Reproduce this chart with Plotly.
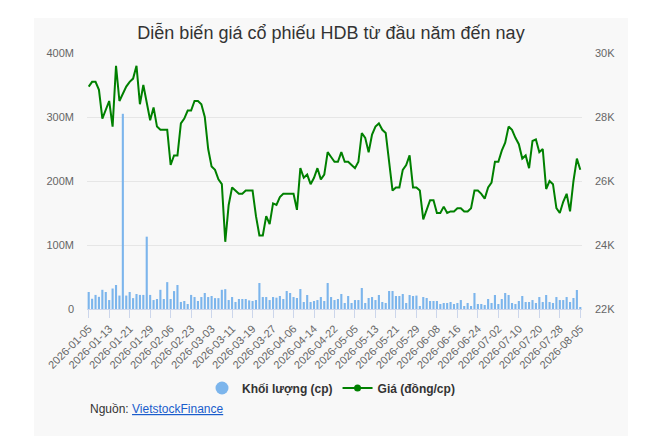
import pandas as pd
import plotly.graph_objects as go

# Trading calendar (HOSE) – weekdays minus market holidays
start_date = "2026-01-05"
end_date = "2026-08-05"
holidays = ["2026-02-16", "2026-02-17", "2026-02-18", "2026-02-19", "2026-02-20",
            "2026-04-27", "2026-04-30", "2026-05-01"]
dates = [d.strftime("%Y-%m-%d") for d in pd.bdate_range(start_date, end_date)
         if d.strftime("%Y-%m-%d") not in holidays]

# Price (dong/share)
price = [28950, 29100, 29100, 28850, 27950, 28200, 28500, 27700, 29600, 28500,
         28750, 28950, 29100, 29200, 29600, 28400, 29000, 28450, 27900, 28300,
         27700, 27600, 27600, 27600, 26500, 26800, 26800, 27800, 27950, 28200,
         28200, 28500, 28500, 28400, 28000, 27000, 26450, 26350, 26050, 25900,
         24100, 25250, 25800, 25700, 25600, 25600, 25700, 25700, 25700, 24900,
         24300, 24300, 24900, 24650, 25300, 25250, 25500, 25600, 25600, 25600,
         25600, 25100, 26400, 26100, 26200, 25900, 26100, 26400, 26050, 26200,
         26900, 26750, 26600, 26600, 26900, 26600, 26600, 26500, 26400, 26600,
         27500, 27350, 26900, 27450, 27700, 27800, 27600, 27500, 26550, 25700,
         25800, 25800, 26350, 26500, 26800, 25800, 25800, 25700, 24800, 25100,
         25400, 25400, 25000, 25000, 25200, 25000, 25050, 25050, 25150, 25150,
         25050, 25050, 25150, 25700, 25700, 25600, 25450, 25800, 25950, 26600,
         26600, 26950, 27200, 27700, 27600, 27350, 27150, 26700, 26800, 26400,
         27250, 27300, 26900, 27000, 25750, 26000, 25900, 25150, 25000, 25350,
         25600, 25050, 26000, 26700, 26350]

# Volume (million shares)
volume_m = [26.6, 16.0, 22.0, 19.0, 30.0, 26.6, 14.0, 32.0, 37.5, 21.0,
            305.0, 21.0, 26.6, 17.0, 23.4, 22.0, 22.0, 113.0, 22.0, 14.0,
            15.6, 30.0, 15.6, 42.0, 15.6, 28.0, 37.5, 11.0, 12.5, 7.8,
            22.0, 18.7, 12.5, 18.7, 25.0, 18.7, 20.3, 17.0, 17.0, 30.0,
            31.0, 14.0, 18.7, 11.0, 15.6, 15.6, 15.6, 13.5, 12.5, 14.0,
            40.6, 18.7, 18.7, 14.0, 18.7, 17.7, 20.3, 15.6, 28.1, 25.0,
            18.7, 17.2, 31.2, 10.9, 21.9, 10.9, 12.5, 14.0, 18.7, 12.5,
            40.6, 18.7, 14.0, 15.6, 23.4, 9.4, 20.3, 9.4, 14.0, 14.0,
            32.8, 9.4, 17.2, 18.7, 14.0, 21.9, 10.9, 9.4, 28.1, 28.1,
            20.3, 20.3, 23.4, 9.4, 21.9, 20.3, 21.0, 4.7, 18.7, 17.2,
            12.5, 12.5, 12.5, 7.8, 9.4, 9.4, 10.9, 7.8, 9.4, 14.0,
            4.7, 9.4, 4.7, 25.0, 7.8, 7.8, 6.2, 15.6, 9.4, 21.9,
            7.8, 15.6, 25.0, 21.9, 9.4, 7.8, 12.5, 20.3, 10.9, 10.9,
            14.0, 9.4, 18.7, 10.9, 21.9, 10.9, 9.4, 18.7, 14.0, 14.0,
            18.7, 10.9, 17.2, 29.7, 3.1]
volume = [v * 1e6 for v in volume_m]

tick_dates = dates[::6]
vol_tickvals = [0, 100e6, 200e6, 300e6, 400e6]
vol_ticktext = ["0", "100M", "200M", "300M", "400M"]
price_tickvals = [22000, 24000, 26000, 28000, 30000]
price_ticktext = ["22K", "24K", "26K", "28K", "30K"]

title_text = "Diễn biến giá cổ phiếu HDB từ đầu năm đến nay"
vol_name = "Khối lượng (cp)"
price_name = "Giá (đồng/cp)"

BAR_COLOR = "#7cb5ec"
LINE_COLOR = "#008000"
FONT = "Liberation Sans, Arial, sans-serif"

fig = go.Figure()
fig.add_trace(go.Bar(x=dates, y=volume, marker=dict(color=BAR_COLOR, line=dict(width=0)),
                     name=vol_name, showlegend=False, yaxis="y"))
fig.add_trace(go.Scatter(x=dates, y=price, mode="lines", line=dict(color=LINE_COLOR, width=2),
                         name=price_name, showlegend=False, yaxis="y2"))
# legend entries
fig.add_trace(go.Scatter(x=[None], y=[None], mode="markers", name=vol_name,
                         marker=dict(color=BAR_COLOR, size=13, symbol="circle"), yaxis="y"))
fig.add_trace(go.Scatter(x=[None], y=[None], mode="lines+markers", name=price_name,
                         line=dict(color=LINE_COLOR, width=2),
                         marker=dict(color=LINE_COLOR, size=7), yaxis="y2"))

W, H = 662, 436
L, R, T, B = 87, 80, 53, 127
pw = W - L - R
ph = H - T - B

def px_x(x):
    return (x - L) / pw

def px_y(y):
    return (H - B - y) / ph

fig.add_shape(type="rect", xref="paper", yref="paper",
              x0=px_x(34), x1=px_x(628), y0=px_y(436), y1=px_y(18),
              fillcolor="#f8f8f8", line=dict(width=0), layer="below")

fig.update_layout(
    width=W, height=H,
    margin=dict(l=L, r=R, t=T, b=B, autoexpand=False),
    paper_bgcolor="white",
    plot_bgcolor="rgba(0,0,0,0)",
    font=dict(family=FONT, color="#666666", size=11),
    title=dict(text=title_text, x=0.5, xref="container",
               y=1 - 33 / H, yref="container", xanchor="center", yanchor="middle",
               font=dict(size=18, color="#333333", family=FONT)),
    bargap=0.38,
    showlegend=True,
    legend=dict(orientation="h", xref="container", yref="container",
                x=331 / W, y=1 - 388 / H, xanchor="center", yanchor="middle",
                font=dict(size=12, color="#333333", family=FONT, weight="bold"),
                bgcolor="rgba(0,0,0,0)", itemwidth=30),
    xaxis=dict(type="category", categoryorder="array", categoryarray=dates,
               range=[-0.5, len(dates) - 0.5],
               tickmode="array", tickvals=tick_dates, ticktext=tick_dates,
               tickangle=-45, ticks="outside", ticklen=8, tickcolor="#ccd6eb",
               showline=True, linecolor="#ccd6eb", linewidth=1,
               showgrid=False, zeroline=False,
               tickfont=dict(size=11, color="#666666")),
    yaxis=dict(range=[0, 400e6], tickmode="array", tickvals=vol_tickvals, ticktext=vol_ticktext,
               showgrid=True, gridcolor="#e6e6e6", gridwidth=1, zeroline=False,
               showline=False, ticks="", ticklabelstandoff=12,
               tickfont=dict(size=11, color="#666666")),
    yaxis2=dict(range=[22000, 30000], overlaying="y", side="right",
                tickmode="array", tickvals=price_tickvals, ticktext=price_ticktext,
                showgrid=False, zeroline=False, showline=False, ticks="",
                ticklabelstandoff=12,
                tickfont=dict(size=11, color="#666666")),
)

fig.add_annotation(xref="paper", yref="paper", x=px_x(88), y=px_y(409),
                   xanchor="left", yanchor="middle", showarrow=False,
                   text='Nguồn: <a href="https://finance.vietstock.vn" style="color:#1a5dcc;text-decoration:underline">VietstockFinance</a>',
                   font=dict(size=12, color="#333333", family=FONT))

fig.write_html("out.html", config={"displayModeBar": False},
               post_script="document.body.style.margin='0';")
